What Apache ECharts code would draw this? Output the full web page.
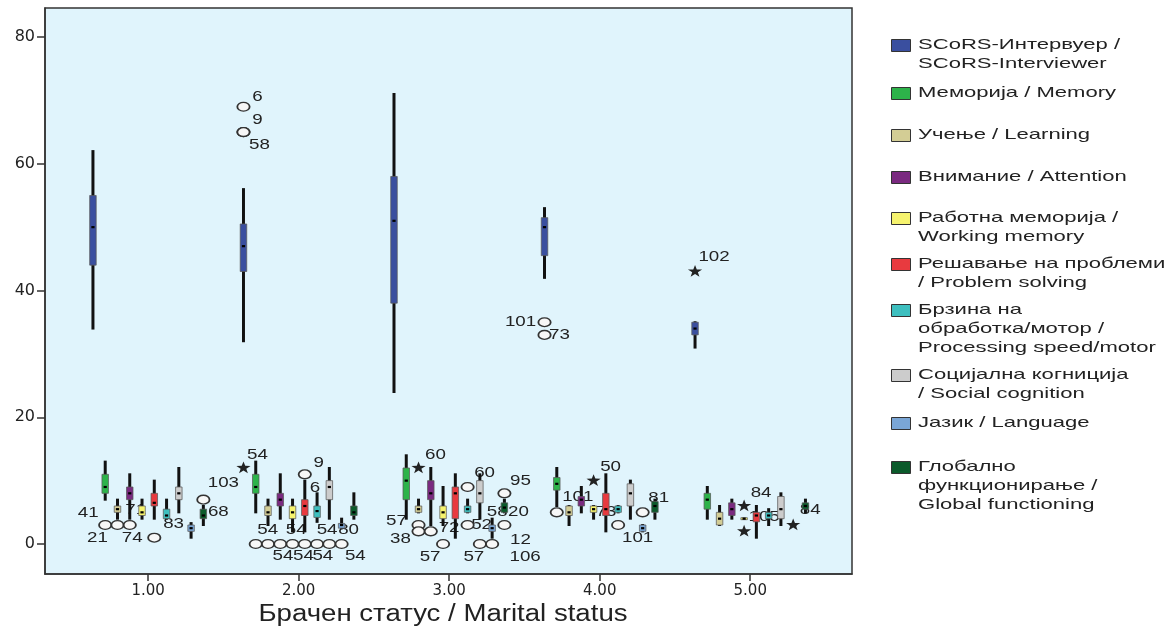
<!DOCTYPE html>
<html>
<head>
<meta charset="utf-8">
<script src="https://cdn.jsdelivr.net/npm/echarts@6/dist/echarts.min.js"></script>
<style>
  html, body { margin: 0; padding: 0; background: #ffffff; }
  #chart { width: 1174px; height: 630px; }
</style>
</head>
<body>
<div id="chart"></div>
<script>
// ---- Data ----------------------------------------------------------------
// Marital status groups (x axis) and tick values
const groupValues = [1, 2, 3, 4, 5];
const xTickValues = [1, 2, 3, 4, 5];
const yTickValues = [0, 20, 40, 60, 80];
const xAxisTitle = 'Брачен статус / Marital status';

// Score domains, in drawing order inside each group
const domainNames = [
  'SCoRS-Интервуер /\nSCoRS-Interviewer',
  'Меморија / Memory',
  'Учење / Learning',
  'Внимание / Attention',
  'Работна меморија /\nWorking memory',
  'Решавање на проблеми\n/ Problem solving',
  'Брзина на\nобработка/мотор /\nProcessing speed/motor',
  'Социјална когниција\n/ Social cognition',
  'Јазик / Language',
  'Глобално\nфункционирање /\nGlobal functioning'
];

// Box statistics for each marital status group: [min, Q1, median, Q3, max]
const scorsInterviewer = [[34, 44, 50, 55, 62], [32, 43, 47, 50.5, 56], [24, 38, 51, 58, 71], [42, 45.5, 50, 51.5, 53], [31, 33, 34, 35, 35]];
const memory           = [[7, 8, 9, 11, 13], [5, 8, 9, 11, 13], [4, 7, 10, 12, 14], [6, 8.5, 9.5, 10.5, 12], [4, 5.5, 7, 8, 9]];
const learning         = [[4, 5, 5.5, 6, 7], [3, 4.5, 5, 6, 7], [5, 5, 5.5, 6, 7], [3, 4.5, 5, 6, 6], [3, 3, 4, 5, 6]];
const attention        = [[4, 7, 8, 9, 11], [4, 6, 7, 8, 11], [3, 7, 8, 10, 12], [5, 6, 7, 7.5, 9], [4, 4.5, 5.5, 6.5, 7]];
const workingMemory    = [[4, 4.5, 5, 6, 7], [2, 4, 5, 6, 7], [3, 4, 5, 6, 9], [4, 5, 5.5, 6, 6], [4, 4, 4, 4, 4]];
const problemSolving   = [[4, 6, 6.5, 8, 10], [2, 4.5, 6, 7, 10], [1, 4, 8, 9, 11], [2, 4.5, 5.5, 8, 11], [1, 3.5, 4.5, 5, 6]];
const processingSpeed  = [[4, 4, 4.5, 5.5, 7], [3.5, 4.2, 5.2, 6, 8], [5, 5, 5.5, 6, 7], [5, 5, 5.5, 6, 6], [3, 4, 4.5, 5, 5.5]];
const socialCognition  = [[5, 7, 8, 9, 12], [4, 7, 9, 10, 12], [4, 6.5, 8, 10, 11], [4, 6, 8, 9.5, 10], [3, 4, 5.5, 7.5, 8]];
const language         = [[1, 2, 2.5, 3, 3.3], [2.5, 2.5, 3, 3.25, 4], [1, 2, 2.5, 3, 4], [2, 2, 2.5, 3, 3], [3, 3, 3, 3, 3]];
const globalFunction   = [[3, 4, 4.5, 5.5, 6], [4, 4.5, 5, 6, 8], [5, 5, 5.75, 6.5, 7], [4, 5, 6, 6.7, 7], [5, 5.5, 6, 6.5, 7]];

const domainStats = [scorsInterviewer, memory, learning, attention, workingMemory,
  problemSolving, processingSpeed, socialCognition, language, globalFunction];

// Outlying cases: [group, domain index, value, marker ('o' outlier, '*' extreme, '' none), case label]
const outliers = [
  [1, 1, 3, 'o', '41'], [1, 2, 3, 'o', '21'], [1, 3, 3, 'o', '71'], [1, 5, 1, 'o', '74'],
  [1, 6, 3.2, '', '83'], [1, 9, 7, 'o', '103'], [1, 9, 5, '', '68'],
  [2, 0, 12, '*', '54'], [2, 0, 69, 'o', '6'], [2, 0, 65, 'o', '9'], [2, 0, 65, 'o', '58'],
  [2, 5, 11, 'o', '9'], [2, 6, 8.8, '', '6'],
  [2, 1, 0, 'o', '54'], [2, 2, 0, 'o', '54'], [2, 3, 0, 'o', '54'], [2, 4, 0, 'o', '54'],
  [2, 5, 0, 'o', '54'], [2, 6, 0, 'o', '54'], [2, 7, 0, 'o', '54'], [2, 8, 0, 'o', '80'],
  [3, 2, 12, '*', '60'], [3, 2, 3, 'o', '57'], [3, 2, 2, 'o', '38'], [3, 3, 2, 'o', ''],
  [3, 4, 0, 'o', '57'], [3, 6, 9, 'o', '60'], [3, 6, 3, 'o', '52'], [3, 7, 0, 'o', '57'],
  [3, 8, 0, 'o', '106'], [3, 9, 8, 'o', '95'], [3, 9, 3, 'o', '12'],
  [3, 4, 2.5, '', '72'], [3, 8, 5, '', '58'], [3, 9, 5, '', '20'],
  [4, 0, 35, 'o', '101'], [4, 0, 33, 'o', '73'], [4, 1, 5, 'o', '101'], [4, 4, 10, '*', '50'],
  [4, 6, 3, 'o', '73'], [4, 8, 5, 'o', '81'], [4, 8, 1, '', '101'],
  [5, 0, 43, '*', '102'], [5, 4, 6, '*', '84'], [5, 4, 2, '*', '105'], [5, 8, 3, '*', '84']
];

// Label placement (pixel offset from its marker) for each outlying case above
const outlierLabelOffsets = [
  [-17, -12], [-20, 13], [6, -15], [-22, 0],
  [7, 0], [20, -17], [15, 0],
  [14, -13], [14, -10], [14, -12], [16, 13],
  [14, -11], [-2, 0],
  [12, -14], [15, 12], [16, -14], [11, 12],
  [18, 12], [10, -14], [26, 12], [7, -14],
  [17, -13], [-22, -4], [-18, 8], [0, 0],
  [-13, 13], [17, -14], [14, 0], [-6, 13],
  [33, 13], [16, -12], [16, 15],
  [6, 0], [5, 0], [14, 0],
  [-24, 0], [15, 0], [21, -15], [17, -14],
  [-12, -13], [16, -14], [-5, 0],
  [19, -15], [17, -13], [20, -14], [17, -15]
];

// ---- Styling -------------------------------------------------------------
const domainColors = ['#3a4f9f', '#2db34a', '#d3cd95', '#7a2a80', '#f6f36e',
  '#e83a3f', '#3dbfbf', '#cccccc', '#7aa6d6', '#0b5a2b'];
const slotWidth = 0.0815;               // spacing of the ten boxes within a group
const domainOffset = d => (d - 4.5) * slotWidth;
const textFont = '"Liberation Sans", Arial, sans-serif';

function renderBox(color) {
  return function (params, api) {
    const x = api.value(0);
    const pMin = api.coord([x, api.value(1)]);
    const pQ1 = api.coord([x, api.value(2)]);
    const pMed = api.coord([x, api.value(3)]);
    const pQ3 = api.coord([x, api.value(4)]);
    const pMax = api.coord([x, api.value(5)]);
    const cx = pMin[0];
    const bw = 6.5;
    const h = Math.max(pQ1[1] - pQ3[1], 2);
    const top = pQ1[1] - pQ3[1] < 2 ? pMed[1] - 1 : pQ3[1];
    return {
      type: 'group',
      children: [
        { type: 'line', shape: { x1: cx, y1: pMax[1] - 1, x2: cx, y2: pMin[1] + 1 },
          style: { stroke: '#111', lineWidth: 3 } },
        { type: 'rect', shape: { x: cx - bw / 2, y: top, width: bw, height: h },
          style: { fill: color, stroke: 'rgba(90,90,90,0.75)', lineWidth: 1 } },
        { type: 'line', shape: { x1: cx - 1.6, y1: pMed[1], x2: cx + 1.6, y2: pMed[1] },
          style: { stroke: '#000', lineWidth: 2.2 } }
      ]
    };
  };
}

function starPoints(cx, cy, R, r) {
  const pts = [];
  for (let k = 0; k < 10; k++) {
    const a = -Math.PI / 2 + k * Math.PI / 5;
    const rad = k % 2 ? r : R;
    pts.push([cx + rad * Math.cos(a) * 1.15, cy + rad * Math.sin(a)]);
  }
  return pts;
}

const outlierData = outliers.map(o => [o[0] + domainOffset(o[1]), o[2]]);

const boxSeries = domainNames.map((name, d) => ({
  type: 'custom',
  name: name,
  silent: true,
  z: 3,
  encode: { x: 0, y: [1, 2, 3, 4, 5] },
  data: groupValues.map((g, i) => [g + domainOffset(d)].concat(domainStats[d][i])),
  renderItem: renderBox(domainColors[d])
}));

const labelSeries = {
  type: 'custom',
  name: 'case labels',
  silent: true,
  z: 2,
  encode: { x: 0, y: 1 },
  data: outlierData,
  renderItem: function (params, api) {
    const o = outliers[params.dataIndex];
    const off = outlierLabelOffsets[params.dataIndex];
    if (!o[4]) return null;
    const p = api.coord([api.value(0), api.value(1)]);
    return {
      type: 'text', x: p[0] + off[0], y: p[1] + off[1], scaleX: 1.25,
      style: { text: o[4], align: 'center', verticalAlign: 'middle', fill: '#222',
        fontSize: 15, fontFamily: textFont }
    };
  }
};

const markerSeries = {
  type: 'custom',
  name: 'outliers',
  silent: true,
  z: 4,
  encode: { x: 0, y: 1 },
  data: outlierData,
  renderItem: function (params, api) {
    const o = outliers[params.dataIndex];
    const p = api.coord([api.value(0), api.value(1)]);
    if (o[3] === 'o') {
      return { type: 'circle', x: p[0], y: p[1], scaleX: 1.4,
        shape: { cx: 0, cy: 0, r: 4.4 },
        style: { fill: '#f7f7f7', stroke: '#333', lineWidth: 1.3 } };
    }
    if (o[3] === '*') {
      return { type: 'polygon', shape: { points: starPoints(p[0], p[1], 6.5, 2.6) },
        style: { fill: '#222' } };
    }
    return null;
  }
};

// ---- Legend (drawn as graphic so multi-line names align on their first line)
const legendFirstLineY = [45, 93, 135, 177, 218, 264, 310, 375, 423, 467];
const legendLineHeight = 19;
const legendGraphics = [];
domainNames.forEach((name, d) => {
  const y = legendFirstLineY[d];
  legendGraphics.push({
    type: 'rect', left: 891, top: y - 6,
    shape: { width: 19, height: 12 },
    style: { fill: domainColors[d], stroke: '#333', lineWidth: 1 }
  });
  name.split('\n').forEach((line, k) => {
    legendGraphics.push({
      type: 'text', x: 918, y: y + k * legendLineHeight, scaleX: 1.47,
      style: { text: line, fill: '#222', fontSize: 15, fontFamily: textFont,
        align: 'left', verticalAlign: 'middle' }
    });
  });
});
legendGraphics.push({
  type: 'text', x: 443, y: 615, scaleX: 1.2,
  style: { text: xAxisTitle, fill: '#222', fontSize: 23, fontFamily: textFont,
    align: 'center', verticalAlign: 'middle' }
});

// ---- Chart ---------------------------------------------------------------
const chart = echarts.init(document.getElementById('chart'), null, { renderer: 'canvas' });
chart.setOption({
  animation: false,
  backgroundColor: '#ffffff',
  grid: {
    left: 45, right: 322, top: 8, bottom: 56,
    show: true, backgroundColor: '#e0f4fc', borderColor: '#333', borderWidth: 1.5,
    outerBoundsMode: 'none'
  },
  xAxis: {
    type: 'value', min: 0.3147, max: 5.676,
    axisLine: { show: true, onZero: false, lineStyle: { color: '#333', width: 1.5 } },
    axisTick: { show: true, customValues: xTickValues, length: 7, lineStyle: { color: '#333', width: 1.5 } },
    axisLabel: { customValues: xTickValues, formatter: v => v.toFixed(2), fontSize: 15,
      fontFamily: '"DejaVu Sans", sans-serif', color: '#222', margin: 10 },
    splitLine: { show: false }
  },
  yAxis: {
    type: 'value', min: -4.73, max: 84.58,
    axisLine: { show: true, onZero: false, lineStyle: { color: '#333', width: 1.5 } },
    axisTick: { show: true, customValues: yTickValues, length: 8, lineStyle: { color: '#333', width: 1.5 } },
    axisLabel: { customValues: yTickValues, fontSize: 16,
      fontFamily: '"DejaVu Sans", sans-serif', color: '#222', margin: 10 },
    splitLine: { show: false }
  },
  graphic: legendGraphics,
  series: [labelSeries].concat(boxSeries, [markerSeries])
});
</script>
</body>
</html>
